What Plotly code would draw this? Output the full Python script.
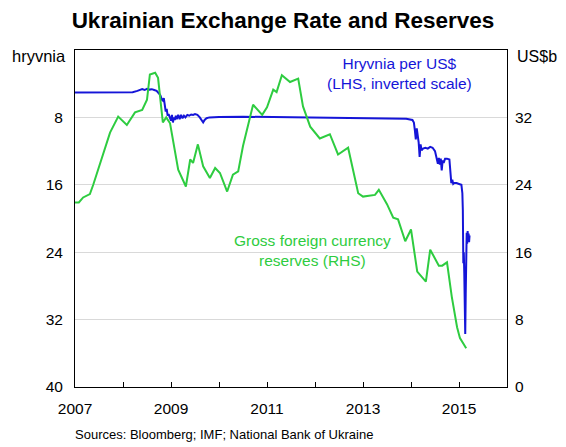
import plotly.graph_objects as go

# Hryvnia per US$ (LHS, inverted), decimal years
fx_years = [2007.0, 2007.5, 2008.0, 2008.2, 2008.3, 2008.35, 2008.4, 2008.45, 2008.5, 2008.55, 2008.6,
            2008.65, 2008.7, 2008.74, 2008.78, 2008.81, 2008.83, 2008.85, 2008.87, 2008.89, 2008.91,
            2008.93, 2008.95, 2008.97, 2009.0, 2009.02, 2009.04, 2009.06, 2009.08, 2009.1, 2009.12,
            2009.15, 2009.18, 2009.21, 2009.24, 2009.27, 2009.3, 2009.34, 2009.38, 2009.42, 2009.46,
            2009.5, 2009.55, 2009.6, 2009.64, 2009.67, 2009.7, 2009.74, 2009.8, 2009.9, 2010.0,
            2010.5, 2011.0, 2011.5, 2012.0, 2012.5, 2013.0, 2013.5, 2013.9, 2014.03, 2014.06,
            2014.08, 2014.1, 2014.12, 2014.14, 2014.16, 2014.18, 2014.2, 2014.22, 2014.25, 2014.3,
            2014.35, 2014.4, 2014.45, 2014.5, 2014.53, 2014.56, 2014.58, 2014.6, 2014.62, 2014.64,
            2014.66, 2014.68, 2014.71, 2014.75, 2014.8, 2014.82, 2014.84, 2014.86, 2014.88, 2014.9,
            2014.95, 2015.0, 2015.05, 2015.07, 2015.08, 2015.09, 2015.1, 2015.11, 2015.12, 2015.13,
            2015.14, 2015.15, 2015.16, 2015.17, 2015.18, 2015.19, 2015.2, 2015.21, 2015.22]
fx_values = [5.05, 5.05, 5.05, 5.0, 4.85, 4.75, 4.65, 4.75, 4.6, 4.7, 4.65,
             4.75, 4.85, 5.1, 5.4, 5.9, 6.0, 5.7, 6.6, 7.3, 7.0,
             7.8, 7.6, 8.0, 8.4, 7.7, 8.6, 8.0, 8.3, 7.8, 8.2,
             7.7, 8.2, 7.7, 8.1, 7.8, 8.0, 7.7, 7.8, 7.65, 7.7,
             7.6, 7.7, 8.0, 8.4, 8.6, 8.3, 8.1, 8.0, 7.95, 7.95,
             7.92, 7.95, 7.97, 7.99, 8.0, 8.05, 8.1, 8.15, 8.3, 8.6,
             9.5, 10.6, 9.3, 10.2, 11.0, 12.7, 11.2, 11.9, 11.7, 11.6,
             11.7, 11.5, 11.6, 12.0, 12.6, 13.5, 12.8, 13.6, 12.9, 14.3,
             13.1, 13.4, 12.9, 12.9, 13.0, 15.0, 15.8, 15.4, 15.9, 15.8,
             15.8, 15.9, 16.0, 17.0, 19.0, 25.3, 24.0, 26.5, 30.0, 33.7,
             29.0, 24.0, 21.7, 23.0, 21.5, 22.6, 21.8, 22.8, 22.0]

# Gross foreign currency reserves, US$b (RHS)
res_years = [2007.0, 2007.08, 2007.17, 2007.31, 2007.38, 2007.55, 2007.73, 2007.9, 2008.08,
             2008.25, 2008.4, 2008.5, 2008.56, 2008.67, 2008.73, 2008.83, 2008.9, 2008.98,
             2009.15, 2009.31, 2009.4, 2009.46, 2009.56, 2009.67, 2009.81, 2009.92, 2010.02,
             2010.17, 2010.29, 2010.4, 2010.5, 2010.71, 2010.9, 2011.0, 2011.13, 2011.2,
             2011.31, 2011.48, 2011.65, 2011.75, 2011.9, 2012.1, 2012.31, 2012.48, 2012.69,
             2012.9, 2013.0, 2013.25, 2013.33, 2013.5, 2013.63, 2013.73, 2013.88, 2014.0,
             2014.13, 2014.31, 2014.4, 2014.58, 2014.65, 2014.75, 2014.85, 2014.96, 2015.02,
             2015.15]
res_values = [21.9, 21.9, 22.5, 22.9, 24.0, 27.0, 30.2, 32.1, 31.1,
              32.6, 32.9, 34.1, 37.1, 37.3, 36.7, 31.4, 32.0, 31.3,
              25.8, 23.8, 27.0, 26.6, 28.8, 26.2, 24.8, 26.0, 25.4,
              23.2, 25.2, 25.6, 28.6, 33.5, 32.3, 33.2, 35.3, 35.0,
              37.0, 36.2, 36.6, 33.3, 30.9, 29.5, 30.0, 27.6, 28.4,
              23.0, 22.6, 22.8, 23.4, 21.7, 20.1, 19.9, 17.3, 18.7,
              13.7, 12.5, 16.3, 14.4, 14.4, 14.8, 10.7, 7.1, 5.8,
              4.6]

year_ticks = list(range(2007, 2017))
year_labels = [str(y) if y % 2 == 1 and y < 2016 else "" for y in year_ticks]
lhs_ticks = [8, 16, 24, 32, 40]
rhs_ticks = [0, 8, 16, 24, 32]

BLUE = "#1515d8"
GREEN = "#2ecc40"
FONT = "Liberation Sans, Arial, sans-serif"
FS = 15.5

fig = go.Figure()
fig.add_trace(go.Scatter(x=fx_years, y=fx_values, mode="lines", yaxis="y",
                         line=dict(color=BLUE, width=2), showlegend=False))
fig.add_trace(go.Scatter(x=res_years, y=res_values, mode="lines", yaxis="y2",
                         line=dict(color=GREEN, width=2), showlegend=False))

fig.update_layout(
    width=558, height=439,
    margin=dict(l=67, r=59, t=42, b=60),
    paper_bgcolor="white", plot_bgcolor="white",
    font=dict(family=FONT, size=FS, color="black"),
    title=dict(text="<b>Ukrainian Exchange Rate and Reserves</b>", xref="container",
               x=0.4928, xanchor="center", yref="container", y=0.9727, yanchor="middle",
               font=dict(size=22.5, family=FONT)),
    xaxis=dict(range=[2007, 2016], tickvals=year_ticks, ticktext=year_labels,
               ticks="inside", ticklen=5, tickcolor="black", showgrid=False,
               showline=True, linecolor="black", linewidth=1, mirror=True,
               zeroline=False, ticklabelstandoff=7, tickfont=dict(size=FS)),
    yaxis=dict(range=[40, 0], tickvals=lhs_ticks, showgrid=True, gridcolor="#d9d9d9",
               gridwidth=1, showline=True, linecolor="black", linewidth=1, mirror=True,
               zeroline=False, ticks="", ticklabelstandoff=8, tickfont=dict(size=FS)),
    yaxis2=dict(range=[0, 40], tickvals=rhs_ticks, overlaying="y", side="right",
                showgrid=False, showline=False, zeroline=False, ticks="",
                ticklabelstandoff=7, tickfont=dict(size=FS)),
    annotations=[
        dict(text="hryvnia", xref="paper", yref="paper", x=-0.0162, y=0.982, xanchor="right",
             yanchor="middle", showarrow=False, font=dict(size=16.5)),
        dict(text="US$b", xref="paper", yref="paper", x=1.0185, y=0.982, xanchor="left",
             yanchor="middle", showarrow=False, font=dict(size=16)),
        dict(text="Hryvnia per US$<br>(LHS, inverted scale)", xref="x", yref="y",
             x=2013.77, y=2.8, xanchor="center", yanchor="middle", showarrow=False,
             font=dict(size=FS, color=BLUE)),
        dict(text="Gross foreign currency<br>reserves (RHS)", xref="x", yref="y2",
             x=2011.94, y=16.2, xanchor="center", yanchor="middle", showarrow=False,
             font=dict(size=FS, color=GREEN)),
        dict(text="Sources: Bloomberg; IMF; National Bank of Ukraine", xref="paper",
             yref="paper", x=-0.005, y=-0.142, xanchor="left", yanchor="middle",
             showarrow=False, font=dict(size=13)),
    ],
)

fig.write_html("out.html")
